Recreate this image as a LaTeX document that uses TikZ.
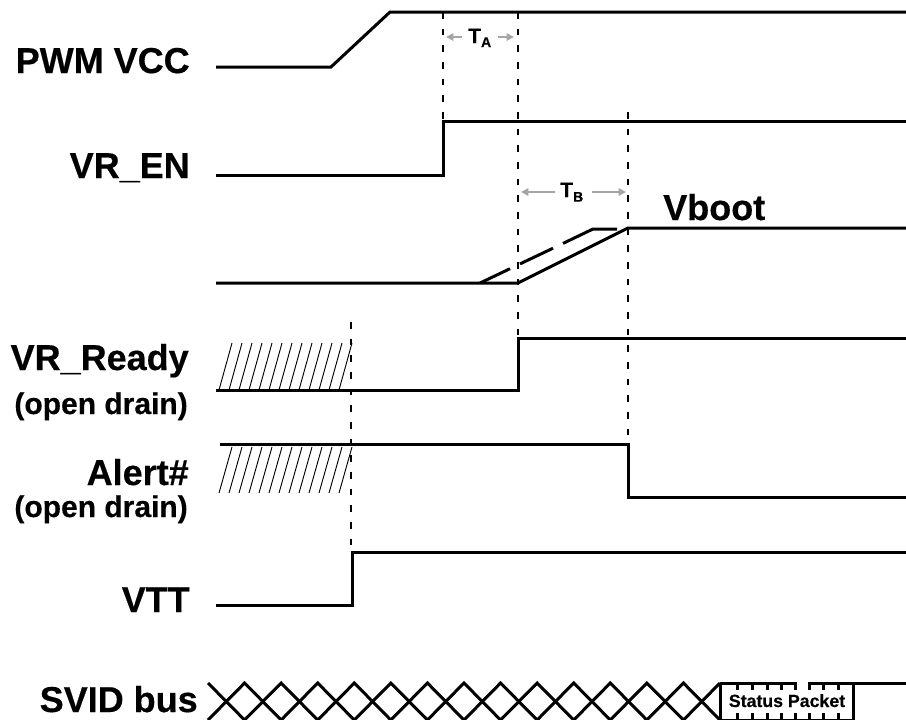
\documentclass[tikz,border=0pt]{standalone}
\usepackage{fontspec}
\setmainfont{Liberation Sans}[BoldFeatures={FakeBold=0.4}]
\usetikzlibrary{arrows.meta}
\definecolor{arrgray}{RGB}{165,165,165}
\begin{document}
\begin{tikzpicture}[x=0.75pt,y=-0.75pt,
  sig/.style={line width=2.25pt},
  dline/.style={line width=1.9pt, dash pattern=on 5pt off 7.5pt},
  hatchline/.style={line width=0.7pt},
  garrow/.style={draw=arrgray, line width=1.5pt, -{Triangle[length=5.5pt,width=5.5pt]}},
  lab/.style={font=\bfseries\fontsize{27}{30}\selectfont, anchor=base east, inner sep=0pt},
  sublab/.style={font=\bfseries\fontsize{22.5}{26}\selectfont, anchor=base east, inner sep=0pt},
  tlab/.style={font=\bfseries\fontsize{15.75}{18}\selectfont, anchor=base west, inner sep=0pt},
  pktlab/.style={font=\bfseries\fontsize{13.3}{15}\selectfont, anchor=base, inner sep=0pt}]
\useasboundingbox (0,0) rectangle (906,719);
\clip (0,0) rectangle (906,719);

% labels
\node[lab] (pwm) at (190,73) {PWM VCC};
\node[lab] (vren) at (190,178) {VR\_EN};
\node[lab] (vrr) at (189,370) {VR\_Ready};
\node[sublab] (od1) at (188,414) {(open drain)};
\node[lab] (alert) at (189,485) {Alert\#};
\node[sublab] (od2) at (188,517) {(open drain)};
\node[lab] (vtt) at (190,612) {VTT};
\node[lab] (svid) at (198,712) {SVID bus};
\node[lab, anchor=base west] (vboot) at (663,220) {Vboot};

% dashed verticals
\draw[dline] (443,12) -- (443,121);
\draw[dline] (518,12) -- (518,338);
\draw[dline] (628,112) -- (628,444);
\draw[dline] (351,322) -- (351,552);

% T_A and T_B
\node[tlab] (ta) at (468,43) {T\raisebox{-3pt}{\fontsize{10.5}{12}\selectfont A}};
\draw[garrow] (462,37) -- (446,37);
\draw[garrow] (498,37) -- (514,37);
\node[tlab] (tb) at (560,197) {T\raisebox{-3.5pt}{\fontsize{10.5}{12}\selectfont B}};
\draw[garrow] (555,192) -- (521,192);
\draw[garrow] (592,192) -- (626,192);

% signals
\draw[sig] (216,67) -- (331,67) -- (390,12) -- (910,12);
\draw[sig] (216,175) -- (443,175) -- (443,121) -- (910,121);
\draw[sig] (216,283) -- (518,283) -- (628,228) -- (910,228);
\draw[sig] (480,283) -- (510,268.7);
\draw[sig] (520,263.9) -- (553,248.2);
\draw[sig] (563,243.4) -- (593,229) -- (617,229);
\draw[sig] (216,390) -- (518,390) -- (518,338) -- (910,338);
\draw[sig] (220,444) -- (628,444) -- (628,497) -- (910,497);
\draw[sig] (216,605) -- (352,605) -- (352,552) -- (910,552);

% hatching
\foreach \k in {0,...,12} {
  \draw[hatchline] ({219+10*\k},390) -- ({232+10*\k},343);
  \draw[hatchline] ({219+10*\k},493) -- ({232+10*\k},447);
}

% SVID bus
\draw[sig] (208,683) \foreach \i in {0,...,6} { -- ({208+(2*\i+1)*36.571},720) -- ({208+(2*\i+2)*36.571},683) };
\draw[sig] (208,720) \foreach \i in {0,...,6} { -- ({208+(2*\i+1)*36.571},683) -- ({208+(2*\i+2)*36.571},720) };
\draw[sig] (720,683) -- (797,683);
\draw[sig] (808,683) -- (910,683);
\draw[sig] (720,683) -- (720,722);
\draw[sig] (853,683) -- (853,722);
\draw[sig] (720,720) -- (853,720);
\foreach \x in {737,752,767,781,795,809,823,838} {
  \draw[sig] (\x,683) -- (\x,690);
  \draw[sig] (\x,713) -- (\x,720);
}
\node[pktlab] (pkt) at (787,707) {Status Packet};
\end{tikzpicture}
\end{document}
